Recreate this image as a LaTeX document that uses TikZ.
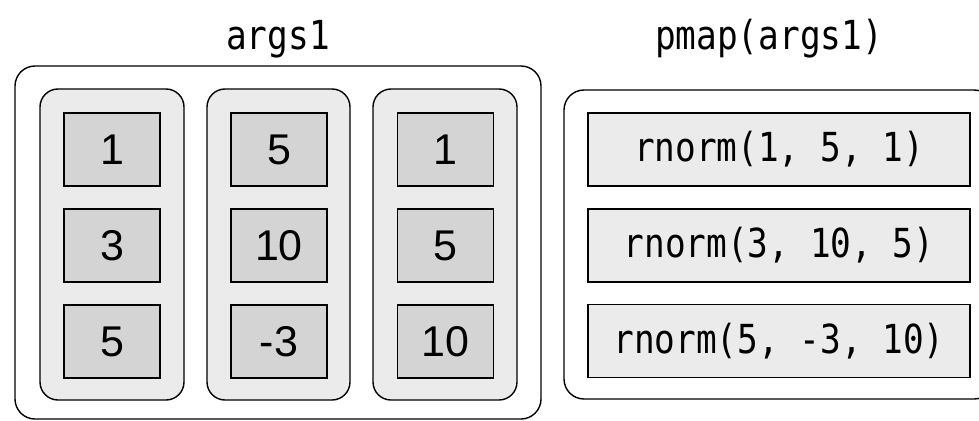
\documentclass[tikz,border=0pt]{standalone}
\usepackage{fontspec}
\setmainfont{Liberation Sans}
\newfontfamily\codefont[FakeStretch=0.86]{DejaVu Sans Mono}
\definecolor{cellgray}{HTML}{D4D4D4}
\definecolor{panelgray}{HTML}{EBEBEB}
\begin{document}
\begin{tikzpicture}[x=1pt,y=-1pt,
  outerbox/.style={draw=black,line width=1.4pt,fill=white,rounded corners=20pt},
  colbox/.style={draw=black,line width=1.4pt,fill=panelgray,rounded corners=18pt},
  cellbox/.style={draw=black,line width=1.4pt,fill=cellgray,inner sep=0pt,
    minimum width=96pt,minimum height=73pt,font=\fontsize{43}{45}\selectfont},
  barbox/.style={draw=black,line width=1.4pt,fill=panelgray,inner sep=0pt,
    minimum width=382pt,minimum height=73pt,font=\codefont\fontsize{40}{42}\selectfont},
  title/.style={font=\codefont\fontsize{40}{42}\selectfont,inner sep=0pt,anchor=base}]
\useasboundingbox (0,0) rectangle (979,420);
\clip (0,0) rectangle (979,420);

% titles
\node[title] (t1) at (278,50) {args1};
\node[title] (t2) at (769,50) {pmap(args1)};

% left container with three argument columns
\draw[outerbox] (15,66) rectangle (541,419);
\draw[colbox] (40,89) rectangle (184,400);
\draw[colbox] (207,89) rectangle (350,400);
\draw[colbox] (373,89) rectangle (517,400);

\node[cellbox] (a11) at (112,149.5) {1};
\node[cellbox] (a12) at (112,245.5) {3};
\node[cellbox] (a13) at (112,341.5) {5};
\node[cellbox] (a21) at (279,149.5) {5};
\node[cellbox] (a22) at (279,245.5) {10};
\node[cellbox] (a23) at (279,341.5) {-3};
\node[cellbox] (a31) at (445.5,149.5) {1};
\node[cellbox] (a32) at (445.5,245.5) {5};
\node[cellbox] (a33) at (445.5,341.5) {10};

% right container with the resulting calls
\draw[outerbox] (564,90) rectangle (994,399);
\node[barbox] (r1) at (779,149.5) {rnorm(1, 5, 1)};
\node[barbox] (r2) at (779,245.5) {rnorm(3, 10, 5)};
\node[barbox] (r3) at (779,341) {rnorm(5, -3, 10)};
\end{tikzpicture}
\end{document}
